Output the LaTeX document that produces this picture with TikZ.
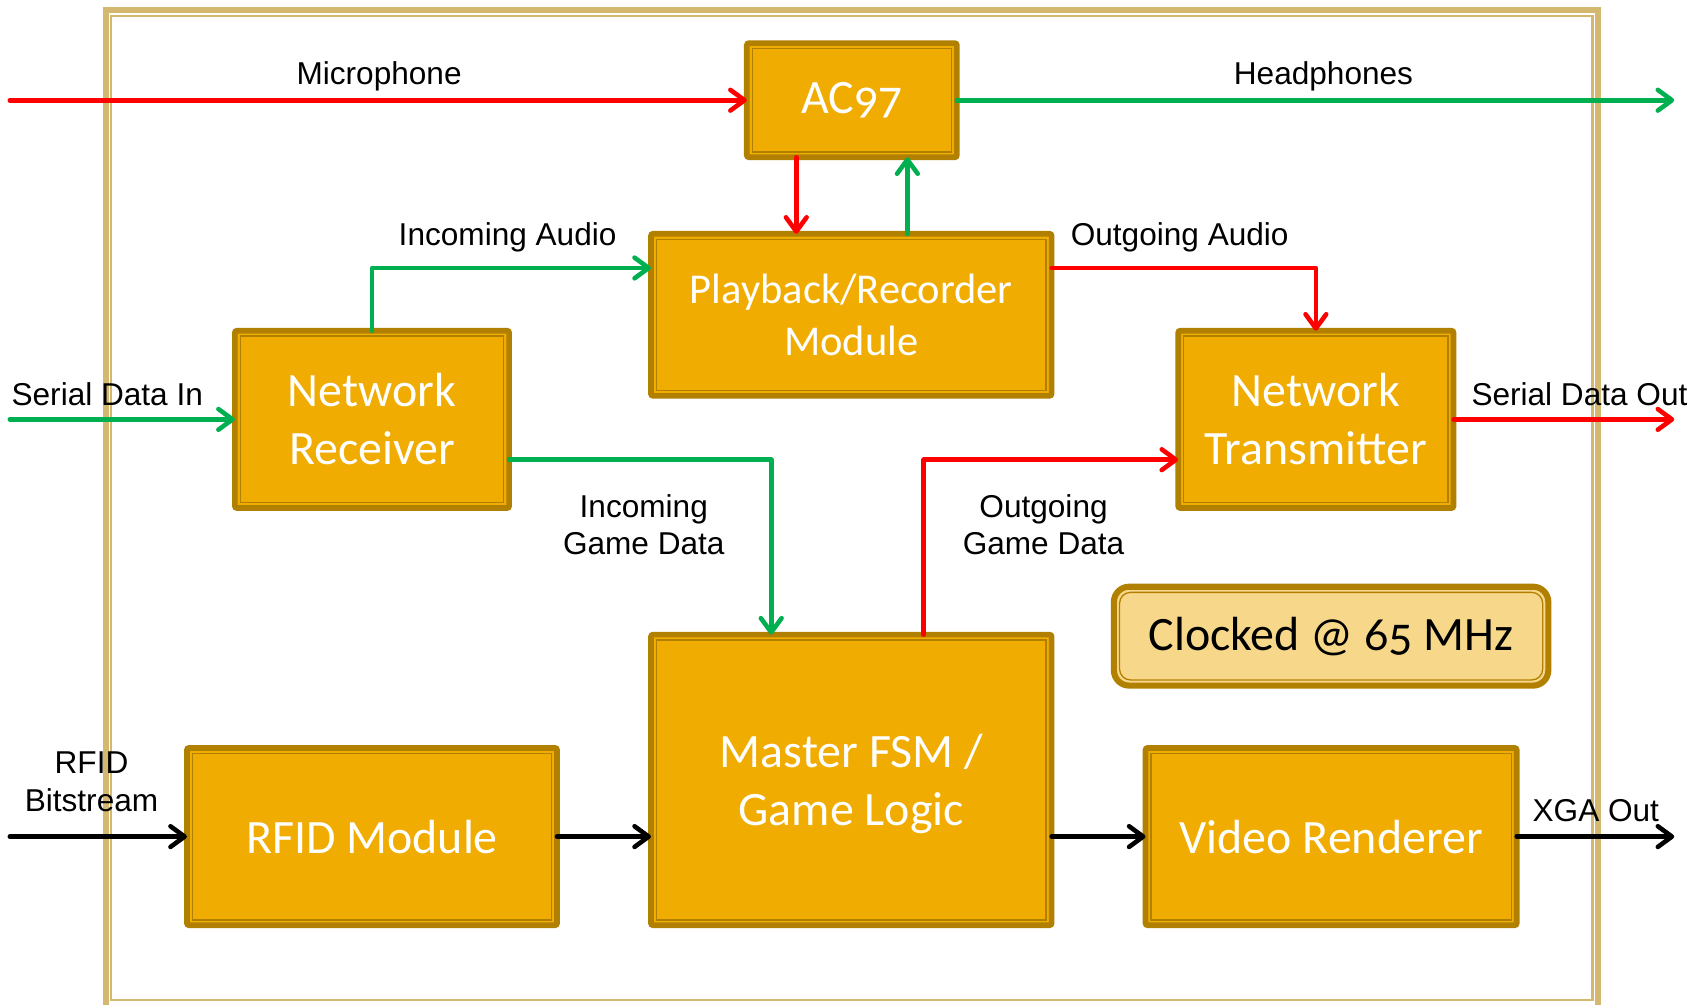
\documentclass[tikz,border=0pt]{standalone}
\usepackage{fontspec}
\setmainfont{Liberation Sans}
\newfontfamily\boxfont[Numbers=OldStyle]{Carlito}
\usetikzlibrary{arrows.meta}
\definecolor{boxfill}{RGB}{240,172,0}
\definecolor{boxdark}{RGB}{178,128,0}
\definecolor{clkfill}{RGB}{247,216,138}
\definecolor{frametan}{RGB}{212,184,112}
\definecolor{redline}{RGB}{255,0,0}
\definecolor{greenline}{RGB}{0,176,80}
\tikzset{
  blk/.style={draw=boxdark, fill=boxfill, line width=2.6pt, rounded corners=1pt,
    inner sep=0pt, outer sep=0pt, text=white, align=center,
    font=\boxfont\fontsize{22}{26.5}\selectfont,
    path picture={\draw[boxdark, line width=0.65pt, sharp corners]
      ([shift={(2.5pt,-2.5pt)}]path picture bounding box.north west) rectangle
      ([shift={(-2.5pt,2.5pt)}]path picture bounding box.south east);}},
  clk/.style={draw=boxdark, fill=clkfill, line width=2.8pt, rounded corners=7pt,
    inner sep=0pt, outer sep=0pt, text=black, align=center,
    font=\boxfont\fontsize{22}{26.5}\selectfont,
    path picture={\draw[boxdark, line width=0.6pt, rounded corners=5pt]
      ([shift={(2.6pt,-2.6pt)}]path picture bounding box.north west) rectangle
      ([shift={(-2.6pt,2.6pt)}]path picture bounding box.south east);}},
  arr/.style={line width=2.1pt, line cap=round, line join=round,
    -{Straight Barb[round, length=6.5pt, width=9.5pt]}},
  lbl/.style={font=\fontsize{14.5}{17}\selectfont, inner sep=0pt, text=black, align=center}
}
\begin{document}
\begin{tikzpicture}[x=0.5pt, y=-0.5pt]
\clip (0,0) rectangle (1568,922);
\fill[white] (0,0) rectangle (1568,922);
% frame
\draw[frametan, line width=2.75pt] (97.5,9) rectangle (1467,925);
\draw[frametan, line width=1pt] (102,14.5) rectangle (1462,918);
% blocks
\node[blk, minimum width=96.4pt, minimum height=52.4pt] (ac) at (782,92) {AC97};
\node[blk, font=\boxfont\fontsize{19.5}{23.5}\selectfont, minimum width=183.9pt, minimum height=74.4pt, yshift=0pt] (pb) at (781.5,289) {Playback/Recorder\\Module};
\node[blk, minimum width=125.9pt, minimum height=81.4pt] (nr) at (341.5,385) {\raisebox{-1pt}{Network}\\\raisebox{-1pt}{Receiver}};
\node[blk, minimum width=126.4pt, minimum height=81.4pt] (nt) at (1208,385) {\raisebox{-1pt}{Network}\\\raisebox{-1pt}{Transmitter}};
\node[blk, minimum width=183.9pt, minimum height=133.4pt, text depth=0pt] (fsm) at (781.5,716) {Master FSM /\\Game Logic};
\node[blk, minimum width=169.9pt, minimum height=81.4pt] (rfid) at (341.5,768) {RFID Module};
\node[blk, minimum width=170.4pt, minimum height=81.4pt] (vid) at (1222,768) {Video Renderer};
\node[clk, minimum width=199.4pt, minimum height=45.4pt] (clk) at (1222,584) {Clocked @ 65 MHz};
% free ends and helper coordinates
\coordinate (micIn) at (9,92);
\coordinate (hpOut) at (1537,92);
\coordinate (sdIn) at (9,385);
\coordinate (sdOut) at (1537,385);
\coordinate (rfIn) at (9,768);
\coordinate (xgaOut) at (1537,768);
\coordinate (xA) at (731,0);
\coordinate (xB) at (833,0);
\coordinate (yAud) at (0,246);
\coordinate (yGame) at (0,422);
\coordinate (xIG) at (708,0);
\coordinate (xOG) at (848,0);
% connectors
\draw[arr, redline] (micIn) -- (ac.west);
\draw[arr, greenline] (ac.east) -- (hpOut);
\draw[arr, redline] (ac.south -| xA) -- (pb.north -| xA);
\draw[arr, greenline] (pb.north -| xB) -- (ac.south -| xB);
\draw[arr, greenline] (nr.north) |- (pb.west |- yAud);
\draw[arr, redline] (pb.east |- yAud) -| (nt.north);
\draw[arr, greenline] (sdIn) -- (nr.west);
\draw[arr, greenline] (nr.east |- yGame) -| (fsm.north -| xIG);
\draw[arr, redline] (fsm.north -| xOG) |- (nt.west |- yGame);
\draw[arr, redline] (nt.east) -- (sdOut);
\draw[arr, black] (rfIn) -- (rfid.west);
\draw[arr, black] (rfid.east) -- (fsm.west |- rfid.east);
\draw[arr, black] (fsm.east |- vid.west) -- (vid.west);
\draw[arr, black] (vid.east) -- (xgaOut);
% labels
\node[lbl, anchor=base] (lmic) at (348,78) {Microphone};
\node[lbl, anchor=base] (lhp) at (1215,78) {Headphones};
\node[lbl, anchor=base] (lia) at (466,225) {Incoming Audio};
\node[lbl, anchor=base] (loa) at (1083,225) {Outgoing Audio};
\node[lbl, anchor=base] (lsdi) at (98.5,372) {Serial Data In};
\node[lbl, anchor=base] (lsdo) at (1450,372) {Serial Data Out};
\node[lbl] (lig) at (591,482) {Incoming\\Game Data};
\node[lbl] (log) at (958,482) {Outgoing\\Game Data};
\node[lbl, font=\fontsize{14.5}{17.5}\selectfont] (lrf) at (84,717.5) {RFID\\Bitstream};
\node[lbl, anchor=base] (lxga) at (1465,754) {XGA Out};
\end{tikzpicture}
\end{document}
